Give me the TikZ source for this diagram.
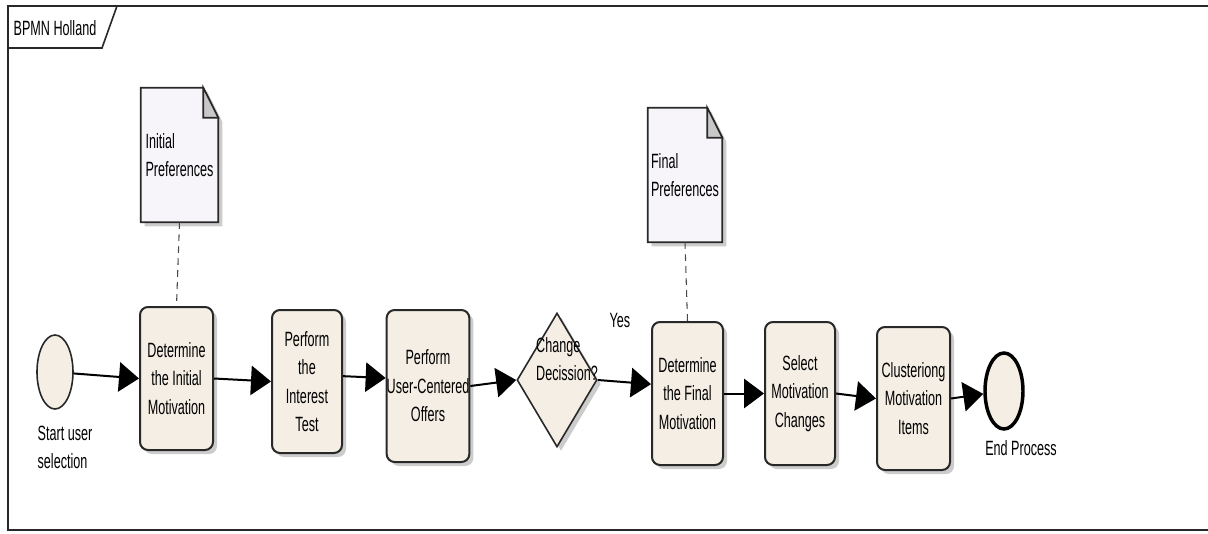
\documentclass[tikz,border=0pt]{standalone}
\usepackage{fontspec}
\setmainfont[FakeStretch=0.61]{Liberation Sans}
\usetikzlibrary{shapes.geometric,arrows.meta,shadows,backgrounds}
\definecolor{taskfill}{RGB}{244,238,228}
\definecolor{docfill}{RGB}{247,245,250}
\definecolor{foldfill}{RGB}{200,200,200}
\definecolor{edgec}{RGB}{40,40,40}
\begin{document}
\begin{tikzpicture}[x=0.75pt,y=-0.75pt,
  every node/.style={font=\fontsize{15.5}{21.4}\selectfont, inner sep=0pt},
  shadowed/.style={drop shadow={shadow xshift=3pt, shadow yshift=-3pt, fill=black!40, opacity=0.5}},
  task/.style={draw=edgec, line width=1.5pt, fill=taskfill, rounded corners=6pt, align=center, shadowed},
  docbox/.style={align=left},
  docshape/.style={draw=edgec, line width=1.2pt, fill=docfill, shadowed},
  flow/.style={draw=black, line width=1.5pt, -{Triangle[length=15pt,width=22pt]}},
  assoc/.style={draw=edgec!85, line width=0.8pt, dash pattern=on 5pt off 4pt},
  frameline/.style={draw=edgec, line width=1.8pt}
]
\useasboundingbox (0,0) rectangle (1208,533);
% frame
\draw[frameline] (1208,6) -- (8,6) -- (8,530) -- (1208,530);
\draw[draw=edgec, line width=1.2pt] (8,6) -- (117,6) -- (102,48) -- (8,48);
\node (tab) at (55,28) {BPMN Holland};

% events
\node[ellipse, draw=edgec, line width=1.2pt, fill=taskfill, minimum width=27pt, minimum height=55.5pt] (start) at (55,372) {};
\node[align=left] (startlbl) at (65,447.5) {Start user\\selection};
\node[ellipse, draw=black, line width=2.6pt, fill=taskfill, minimum width=28.5pt, minimum height=57pt] (end) at (1004,391) {};
\node (endlbl) at (1021,448) {End Process};

% tasks
\node[task, minimum width=54.75pt, minimum height=107.25pt] (t1) at (176.5,378.5) {Determine\\the Initial\\Motivation};
\node[task, minimum width=52.5pt, minimum height=107.25pt] (t2) at (307,381.5) {Perform\\the\\Interest\\Test};
\node[task, minimum width=60pt, minimum height=114pt] (t3) at (428,386) {Perform\\User-Centered\\Offers};
\node[task, minimum width=53.25pt, minimum height=107.25pt] (t4) at (687.5,393.5) {Determine\\the Final\\Motivation};
\node[task, minimum width=52.5pt, minimum height=107.25pt] (t5) at (800,393.5) {Select\\Motivation\\Changes};
\node[task, minimum width=54.75pt, minimum height=107.25pt] (t6) at (913.5,398.5) {Clusteriong\\Motivation\\Items};

% gateway
\node[diamond, draw=edgec, line width=1.2pt, fill=taskfill, minimum width=60pt, minimum height=100.5pt, shadowed] (dec) at (557,380) {};
\node[align=left] (dectext) at (567,359) {Change\\Decission?};
\node (yes) at (620,320) {Yes};

% documents
\node[docbox, minimum width=57.75pt, minimum height=100.5pt] (doc1) at (179.5,155) {Initial\\Preferences};
\node[docbox, minimum width=55.5pt, minimum height=100.5pt] (doc2) at (685,175) {Final\\Preferences};
\begin{scope}[on background layer]
  \foreach \d in {doc1,doc2}{
    \path[docshape] (\d.north west) -- ([xshift=-11.25pt]\d.north east) -- ([yshift=-22.5pt]\d.north east) -- (\d.south east) -- (\d.south west) -- cycle;
    \filldraw[fill=foldfill, draw=edgec, line width=1.2pt] ([xshift=-11.25pt]\d.north east) -- ([xshift=-11.25pt,yshift=-22.5pt]\d.north east) -- ([yshift=-22.5pt]\d.north east) -- cycle;
  }
\end{scope}

% associations
\draw[assoc] (doc1.south) -- (t1.north);
\draw[assoc] (doc2.south) -- (t4.north);

% sequence flows
\draw[flow] (start) -- (t1.west);
\draw[flow] (t1.east) -- (t2.west);
\draw[flow] ([yshift=4pt]t2.east) -- ([yshift=6pt]t3.west);
\draw[flow] (t3.east) -- (dec.west);
\draw[flow] (dec.east) -- ([yshift=7pt]t4.west);
\draw[flow] (t4.east) -- (t5.west);
\draw[flow] (t5.east) -- (t6.west);
\draw[flow] (t6.east) -- (end);
\end{tikzpicture}
\end{document}
